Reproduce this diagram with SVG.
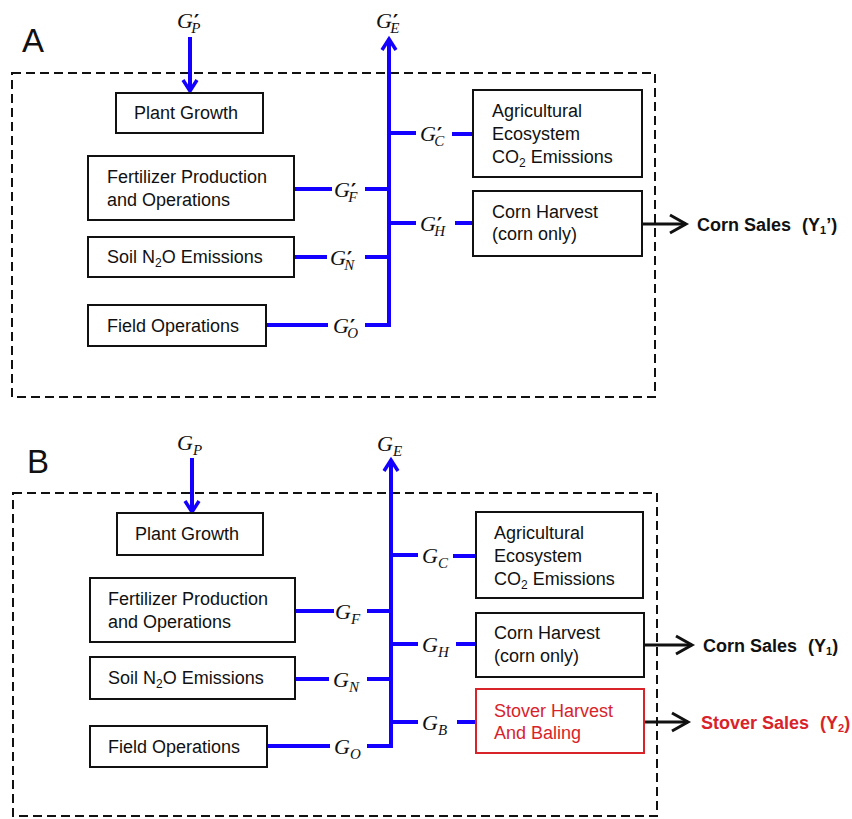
<svg xmlns="http://www.w3.org/2000/svg" width="852" height="819" viewBox="0 0 852 819">
  <defs>
    <style>
      .box { fill: #fff; stroke: #111; stroke-width: 2; }
      .box-red { fill: #fff; stroke: #d9232a; stroke-width: 2; }
      .frame { fill: none; stroke: #111; stroke-width: 2; stroke-dasharray: 9 5; }
      .flow { fill: none; stroke: #1400ff; stroke-width: 4; }
      .out { fill: none; stroke: #111; stroke-width: 3; }
      .txt { font-family: "Liberation Sans", Arial, sans-serif; font-size: 18px; fill: #111; }
      .txt-red { font-family: "Liberation Sans", Arial, sans-serif; font-size: 18px; fill: #d9232a; }
      .sale { font-family: "Liberation Sans", Arial, sans-serif; font-size: 18px; font-weight: bold; fill: #111; }
      .sale-red { font-family: "Liberation Sans", Arial, sans-serif; font-size: 18px; font-weight: bold; fill: #d9232a; }
      .panel { font-family: "Liberation Sans", Arial, sans-serif; font-size: 33px; fill: #111; }
      .m { font-family: "Liberation Serif", "Times New Roman", serif; font-style: italic; font-size: 22px; fill: #111; }
      .ms { font-size: 15px; }
      .mp { font-family: "DejaVu Sans", sans-serif; font-style: normal; font-weight: bold; font-size: 20px; }
    </style>
    <marker id="head-blue" markerUnits="userSpaceOnUse" viewBox="-14 -10 16 20" markerWidth="16" markerHeight="20" refX="0" refY="0" orient="auto" overflow="visible">
      <path d="M-11,-7 L0,0 L-11,7" fill="none" stroke="#1400ff" stroke-width="3.5" stroke-linejoin="miter"/>
    </marker>
    <marker id="head-black" markerUnits="userSpaceOnUse" viewBox="-20 -12 22 24" markerWidth="22" markerHeight="24" refX="0" refY="0" orient="auto" overflow="visible">
      <path d="M-16,-9 L0,0 L-16,9" fill="none" stroke="#111" stroke-width="3" stroke-linejoin="miter"/>
    </marker>
  </defs>

  <rect width="852" height="819" fill="#fff"/>

  <!-- ===== Panel A ===== -->
  <g id="panel-a">
    <text class="panel" x="22" y="52">A</text>
    <rect class="frame" x="12" y="73" width="643" height="324"/>

    <g id="a-connectors">
      <line class="flow" x1="190" y1="37" x2="190" y2="91" marker-end="url(#head-blue)"/>
      <line class="flow" x1="389" y1="327" x2="389" y2="39" marker-end="url(#head-blue)"/>
      <polyline class="flow" points="294,189 332,189"/>
      <polyline class="flow" points="365,189 389,189"/>
      <polyline class="flow" points="294,257 327,257"/>
      <polyline class="flow" points="365,257 389,257"/>
      <polyline class="flow" points="266,325 328,325"/>
      <polyline class="flow" points="365,325 389,325"/>
      <polyline class="flow" points="389,133 416,133"/>
      <polyline class="flow" points="452,134 473,134"/>
      <polyline class="flow" points="389,223 416,223"/>
      <polyline class="flow" points="455,223 473,223"/>
      <line class="out" x1="642" y1="224" x2="686" y2="224" marker-end="url(#head-black)"/>
    </g>

    <g id="a-plant-growth">
      <rect class="box" x="116" y="93" width="147" height="40"/>
      <text class="txt" x="134" y="119">Plant Growth</text>
    </g>
    <g id="a-fertilizer">
      <rect class="box" x="88" y="156" width="206" height="64"/>
      <text class="txt" x="107" y="183">Fertilizer Production</text>
      <text class="txt" x="107" y="206">and Operations</text>
    </g>
    <g id="a-soil-n2o">
      <rect class="box" x="88" y="237" width="206" height="40"/>
      <text class="txt" x="107" y="263">Soil N<tspan font-size="12" dy="4">2</tspan><tspan dy="-4">O Emissions</tspan></text>
    </g>
    <g id="a-field-ops">
      <rect class="box" x="88" y="305" width="178" height="41"/>
      <text class="txt" x="107" y="332">Field Operations</text>
    </g>
    <g id="a-ecosystem-co2">
      <rect class="box" x="473" y="90" width="169" height="87"/>
      <text class="txt" x="492" y="117">Agricultural</text>
      <text class="txt" x="492" y="140">Ecosystem</text>
      <text class="txt" x="492" y="163">CO<tspan font-size="12" dy="4">2</tspan><tspan dy="-4"> Emissions</tspan></text>
    </g>
    <g id="a-corn-harvest">
      <rect class="box" x="473" y="191" width="169" height="65"/>
      <text class="txt" x="492" y="218">Corn Harvest</text>
      <text class="txt" x="492" y="240">(corn only)</text>
    </g>
    <g id="a-corn-sales">
      <text class="sale" x="697" y="231">Corn Sales <tspan dx="6">(Y</tspan><tspan font-size="11" dy="3">1</tspan><tspan dy="-3">’)</tspan></text>
    </g>

    <!-- flow labels: G with prime and subscript -->
    <g id="a-labels">
      <text class="m" x="177" y="28">G<tspan class="mp" dx="1">′</tspan><tspan class="ms" dx="-8" dy="5">P</tspan></text>
      <text class="m" x="376" y="28">G<tspan class="mp" dx="1">′</tspan><tspan class="ms" dx="-8" dy="5">E</tspan></text>
      <text class="m" x="420" y="141">G<tspan class="mp" dx="1">′</tspan><tspan class="ms" dx="-8" dy="5">C</tspan></text>
      <text class="m" x="334" y="197">G<tspan class="mp" dx="1">′</tspan><tspan class="ms" dx="-8" dy="5">F</tspan></text>
      <text class="m" x="330" y="265">G<tspan class="mp" dx="1">′</tspan><tspan class="ms" dx="-8" dy="5">N</tspan></text>
      <text class="m" x="333" y="333">G<tspan class="mp" dx="1">′</tspan><tspan class="ms" dx="-8" dy="5">O</tspan></text>
      <text class="m" x="420" y="231">G<tspan class="mp" dx="1">′</tspan><tspan class="ms" dx="-8" dy="5">H</tspan></text>
    </g>
  </g>

  <!-- ===== Panel B ===== -->
  <g id="panel-b">
    <text class="panel" x="27" y="473">B</text>
    <rect class="frame" x="13" y="493" width="644" height="323"/>

    <g id="b-connectors">
      <line class="flow" x1="192" y1="458" x2="192" y2="512" marker-end="url(#head-blue)"/>
      <line class="flow" x1="391" y1="748" x2="391" y2="460" marker-end="url(#head-blue)"/>
      <polyline class="flow" points="295,611 334,611"/>
      <polyline class="flow" points="367,611 391,611"/>
      <polyline class="flow" points="295,679 329,679"/>
      <polyline class="flow" points="367,679 391,679"/>
      <polyline class="flow" points="267,746 330,746"/>
      <polyline class="flow" points="367,746 391,746"/>
      <polyline class="flow" points="391,555 418,555"/>
      <polyline class="flow" points="453,556 476,556"/>
      <polyline class="flow" points="391,644 418,644"/>
      <polyline class="flow" points="456,644 476,644"/>
      <polyline class="flow" points="391,722 418,722"/>
      <polyline class="flow" points="457,722 476,722"/>
      <line class="out" x1="644" y1="645" x2="692" y2="645" marker-end="url(#head-black)"/>
      <line class="out" x1="644" y1="722" x2="688" y2="722" marker-end="url(#head-black)"/>
    </g>

    <g id="b-plant-growth">
      <rect class="box" x="117" y="513" width="146" height="42"/>
      <text class="txt" x="135" y="540">Plant Growth</text>
    </g>
    <g id="b-fertilizer">
      <rect class="box" x="90" y="578" width="205" height="64"/>
      <text class="txt" x="108" y="605">Fertilizer Production</text>
      <text class="txt" x="108" y="628">and Operations</text>
    </g>
    <g id="b-soil-n2o">
      <rect class="box" x="90" y="657" width="205" height="42"/>
      <text class="txt" x="108" y="684">Soil N<tspan font-size="12" dy="4">2</tspan><tspan dy="-4">O Emissions</tspan></text>
    </g>
    <g id="b-field-ops">
      <rect class="box" x="90" y="726" width="177" height="41"/>
      <text class="txt" x="108" y="753">Field Operations</text>
    </g>
    <g id="b-ecosystem-co2">
      <rect class="box" x="476" y="512" width="167" height="86"/>
      <text class="txt" x="494" y="539">Agricultural</text>
      <text class="txt" x="494" y="562">Ecosystem</text>
      <text class="txt" x="494" y="585">CO<tspan font-size="12" dy="4">2</tspan><tspan dy="-4"> Emissions</tspan></text>
    </g>
    <g id="b-corn-harvest">
      <rect class="box" x="476" y="613" width="168" height="64"/>
      <text class="txt" x="494" y="639">Corn Harvest</text>
      <text class="txt" x="494" y="662">(corn only)</text>
    </g>
    <g id="b-stover-harvest">
      <rect class="box-red" x="476" y="689" width="168" height="64"/>
      <text class="txt-red" x="494" y="717">Stover Harvest</text>
      <text class="txt-red" x="494" y="739">And Baling</text>
    </g>
    <g id="b-corn-sales">
      <text class="sale" x="703" y="652">Corn Sales <tspan dx="6">(Y</tspan><tspan font-size="11" dy="3">1</tspan><tspan dy="-3">)</tspan></text>
    </g>
    <g id="b-stover-sales">
      <text class="sale-red" x="701" y="729">Stover Sales <tspan dx="6">(Y</tspan><tspan font-size="11" dy="3">2</tspan><tspan dy="-3">)</tspan></text>
    </g>

    <!-- flow labels: G with subscript -->
    <g id="b-labels">
      <text class="m" x="177" y="450">G<tspan class="ms" dy="5">P</tspan></text>
      <text class="m" x="377" y="451">G<tspan class="ms" dy="5">E</tspan></text>
      <text class="m" x="422" y="563">G<tspan class="ms" dy="5">C</tspan></text>
      <text class="m" x="335" y="619">G<tspan class="ms" dy="5">F</tspan></text>
      <text class="m" x="333" y="687">G<tspan class="ms" dy="5">N</tspan></text>
      <text class="m" x="334" y="754">G<tspan class="ms" dy="5">O</tspan></text>
      <text class="m" x="422" y="652">G<tspan class="ms" dy="5">H</tspan></text>
      <text class="m" x="422" y="730">G<tspan class="ms" dy="5">B</tspan></text>
    </g>
  </g>
</svg>
